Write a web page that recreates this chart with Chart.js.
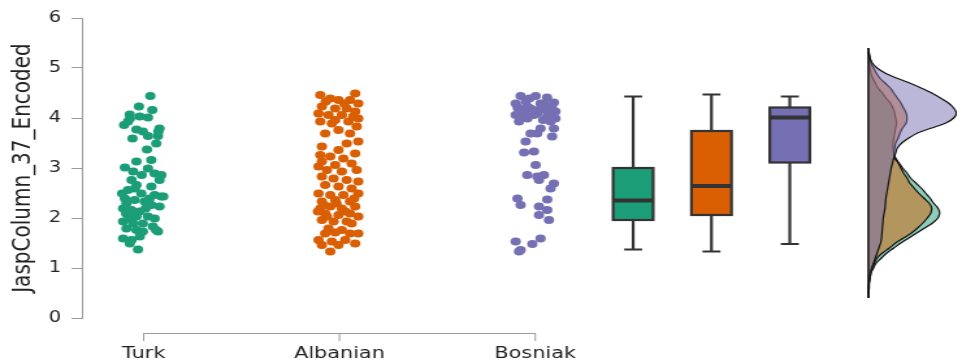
<!DOCTYPE html>
<html>
<head>
<meta charset="utf-8">
<script src="https://cdn.jsdelivr.net/npm/chart.js@4.4.1/dist/chart.umd.min.js"></script>
<style>
  html, body { margin: 0; padding: 0; background: #fff; overflow: hidden; }
  /* the plot is rendered narrow and widened horizontally */
  #wrap { width: 740px; height: 363px; transform: scaleX(1.3); transform-origin: 0 0; }
</style>
</head>
<body>
<div id="wrap"><canvas id="plot" width="740" height="363"></canvas></div>
<script>
'use strict';

// ===== data =====
const groups = ['Turk', 'Albanian', 'Bosniak'];
const groupColors = ['#1b9e77', '#d95f02', '#7570b3'];
const yTicks = [0, 1, 2, 3, 4, 5, 6];

// jittered raw observations (jitter in category units)
const turkJitter = [0.034, -0.024, 0.044, -0.071, -0.020, 0.022, -0.100, -0.080, -0.037, -0.004,
  0.081, -0.057, 0.022, 0.073, 0.064, 0.017, -0.037, 0.039, -0.096, 0.022,
  -0.054, 0.056, 0.090, 0.081, -0.062, -0.037, 0.039, -0.080, -0.012, 0.056,
  0.090, -0.096, -0.046, 0.005, 0.039, 0.081, -0.105, -0.062, -0.020, -0.080,
  -0.037, 0.022, 0.056, -0.105, -0.054, -0.004, 0.047, -0.088, -0.037, 0.073,
  -0.105, -0.062, -0.020, -0.071, -0.029, -0.004, -0.088, 0.030, -0.090, -0.060,
  0.010, -0.110, 0.063, -0.045, 0.100, -0.070, 0.075, -0.010];
const turkValues = [4.44, 4.23, 4.16, 4.07, 4.03, 4.01, 3.86, 3.93, 3.77, 3.73,
  3.79, 3.59, 3.64, 3.64, 3.49, 3.37, 3.13, 3.16, 3.01, 2.99,
  2.93, 2.89, 2.86, 2.76, 2.76, 2.66, 2.63, 2.56, 2.49, 2.46,
  2.43, 2.39, 2.36, 2.33, 2.26, 2.23, 2.19, 2.16, 2.13, 2.06,
  2.03, 2.03, 1.99, 1.93, 1.89, 1.89, 1.83, 1.79, 1.76, 1.73,
  1.59, 1.56, 1.63, 1.49, 1.37, 1.73, 2.29, 2.39, 2.09, 1.97,
  2.19, 2.49, 1.76, 2.59, 2.43, 3.99, 3.73, 2.86];

const albanianJitter = [-0.098, 0.080, -0.047, -0.005, 0.054, 0.096, -0.090, -0.022, 0.037, 0.080,
  -0.107, -0.056, 0.012, 0.096, -0.098, -0.039, 0.046, 0.088, -0.073, -0.005,
  0.054, 0.096, 0.037, -0.090, -0.005, -0.098, -0.047, 0.020, -0.090, -0.022,
  0.062, -0.064, 0.012, 0.088, -0.090, -0.030, 0.037, 0.096, -0.073, -0.005,
  0.062, -0.107, -0.047, 0.020, 0.096, -0.090, -0.022, 0.054, -0.098, -0.047,
  0.012, 0.080, -0.073, -0.005, 0.054, 0.096, -0.090, -0.030, 0.037, -0.056,
  0.012, -0.073, -0.022, 0.054, 0.096, -0.107, -0.039, 0.029, 0.080, -0.090,
  -0.005, -0.047, -0.107, 0.080, -0.022, -0.064, 0.062, -0.070, 0.025, 0.070,
  -0.080, 0.030, -0.015, 0.075, -0.110];
const albanianValues = [4.46, 4.49, 4.39, 4.36, 4.36, 4.29, 4.23, 4.19, 4.19, 4.13,
  4.09, 4.06, 4.06, 3.99, 3.93, 3.89, 3.93, 3.83, 3.69, 3.76,
  3.69, 3.53, 3.49, 3.43, 3.36, 3.26, 3.23, 3.19, 3.13, 3.06,
  3.09, 2.96, 2.93, 2.96, 2.83, 2.79, 2.76, 2.73, 2.66, 2.63,
  2.59, 2.49, 2.46, 2.46, 2.49, 2.33, 2.36, 2.33, 2.19, 2.23,
  2.19, 2.23, 2.09, 2.06, 2.09, 2.03, 1.96, 1.93, 1.93, 1.79,
  1.76, 1.69, 1.71, 1.69, 1.69, 1.56, 1.53, 1.56, 1.49, 1.46,
  1.46, 1.33, 3.03, 3.29, 3.96, 2.03, 1.89, 4.33, 4.29, 4.03,
  2.26, 2.13, 2.29, 2.39, 2.13];

const bosniakJitter = [-0.075, 0.002, -0.100, -0.049, 0.027, 0.095, -0.083, -0.024, 0.052, 0.103,
  -0.075, -0.007, 0.061, 0.103, -0.083, 0.010, -0.041, 0.078, 0.027, 0.095,
  -0.024, 0.010, 0.086, -0.049, -0.057, -0.007, 0.002, -0.041, 0.010, 0.044,
  0.019, 0.095, 0.078, -0.091, -0.075, 0.061, 0.019, 0.061, 0.019, 0.070,
  -0.100, -0.075, -0.015, 0.027, -0.083, 0.044, 0.070, -0.057, -0.030, 0.060,
  -0.090, 0.035, 0.085, -0.060, 0.015, -0.040, 0.040, -0.100];
const bosniakValues = [4.44, 4.44, 4.29, 4.33, 4.29, 4.31, 4.16, 4.19, 4.16, 4.13,
  4.03, 4.06, 4.03, 3.99, 3.93, 4.09, 4.23, 3.93, 3.79, 3.79,
  3.69, 3.69, 3.63, 3.53, 3.31, 3.33, 3.06, 2.86, 2.83, 2.86,
  2.76, 2.69, 2.59, 2.39, 2.26, 2.37, 2.23, 2.16, 2.06, 1.96,
  1.53, 1.36, 1.48, 1.59, 1.33, 4.29, 4.09, 4.09, 4.39, 4.41,
  4.21, 4.23, 4.21, 4.16, 4.16, 3.99, 3.96, 4.06];

// box plot summaries
const boxPositions = [3.5, 3.9, 4.3];
const boxLower = [1.37, 1.33, 1.48];
const boxQ1 = [1.96, 2.06, 3.11];
const boxMedian = [2.35, 2.64, 4.01];
const boxQ3 = [3.00, 3.74, 4.21];
const boxUpper = [4.43, 4.47, 4.43];

// kernel densities, evaluated at the same levels (relative density)
const densityLevels = [0.4, 0.5, 0.6, 0.7, 0.8, 0.9, 1.0, 1.1, 1.2, 1.3,
  1.4, 1.5, 1.6, 1.7, 1.8, 1.9, 2.0, 2.1, 2.2, 2.3,
  2.4, 2.5, 2.6, 2.7, 2.8, 2.9, 3.0, 3.1, 3.2, 3.3,
  3.4, 3.5, 3.6, 3.7, 3.8, 3.9, 4.0, 4.1, 4.2, 4.3,
  4.4, 4.5, 4.6, 4.7, 4.8, 4.9, 5.0, 5.1, 5.2, 5.3, 5.4];
const turkDensity = [0, 0, 0.005, 0.01, 0.02, 0.03, 0.06, 0.09, 0.15, 0.21,
  0.29, 0.37, 0.46, 0.55, 0.64, 0.73, 0.79, 0.81, 0.79, 0.74,
  0.70, 0.65, 0.60, 0.54, 0.48, 0.44, 0.39, 0.35, 0.31, 0.29,
  0.28, 0.28, 0.29, 0.30, 0.31, 0.32, 0.31, 0.30, 0.28, 0.25,
  0.20, 0.16, 0.11, 0.08, 0.05, 0.03, 0.02, 0.01, 0.01, 0, 0];
const albanianDensity = [0, 0, 0, 0.005, 0.01, 0.02, 0.04, 0.07, 0.10, 0.16,
  0.24, 0.31, 0.40, 0.49, 0.56, 0.62, 0.67, 0.71, 0.72, 0.69,
  0.63, 0.57, 0.52, 0.47, 0.44, 0.40, 0.37, 0.34, 0.30, 0.29,
  0.30, 0.31, 0.34, 0.36, 0.39, 0.43, 0.44, 0.43, 0.40, 0.37,
  0.33, 0.29, 0.25, 0.19, 0.13, 0.09, 0.06, 0.03, 0.02, 0.01, 0];
const bosniakDensity = [0, 0, 0.01, 0.01, 0.02, 0.03, 0.04, 0.06, 0.08, 0.10,
  0.12, 0.14, 0.15, 0.155, 0.16, 0.165, 0.17, 0.18, 0.19, 0.195,
  0.20, 0.21, 0.22, 0.23, 0.24, 0.25, 0.26, 0.275, 0.29, 0.31,
  0.33, 0.38, 0.46, 0.56, 0.72, 0.88, 0.97, 1.00, 0.97, 0.91,
  0.82, 0.72, 0.60, 0.47, 0.32, 0.19, 0.10, 0.045, 0.02, 0.005, 0];
const densityRange = [0.42, 5.32];

// ===== styles =====
const FONT = "'DejaVu Sans', sans-serif";
const AXIS_GREY = '#9a9a9a';
const INK = '#222';

function hexAlpha(hex, a) {
  const n = parseInt(hex.slice(1), 16);
  return `rgba(${n >> 16},${(n >> 8) & 255},${n & 255},${a})`;
}

function jitterPoints(idx, jitter, values) {
  return values.map((v, i) => ({ x: idx + 1 + jitter[i], y: v }));
}

function densityCurve(dens) {
  return densityLevels.map((lv, i) => ({ x: dens[i], y: lv }));
}

// x axis drawn only between the first and last group, below the plot
const baseAxisPlugin = {
  id: 'baseAxis',
  afterDraw(chart) {
    const { ctx, scales: { x }, chartArea } = chart;
    const y0 = chartArea.bottom + 15;
    const x1 = x.getPixelForValue(1);
    const x3 = x.getPixelForValue(groups.length);
    ctx.save();
    ctx.strokeStyle = AXIS_GREY;
    ctx.lineWidth = 1;
    ctx.beginPath();
    ctx.moveTo(x1, y0 + 0.5);
    ctx.lineTo(x3, y0 + 0.5);
    groups.forEach((g, i) => {
      const px = x.getPixelForValue(i + 1);
      ctx.moveTo(px, y0);
      ctx.lineTo(px, y0 + 8);
    });
    ctx.stroke();
    ctx.restore();
  }
};

// box plots next to the clouds
const boxPlotPlugin = {
  id: 'boxPlots',
  afterDatasetsDraw(chart) {
    const { ctx, scales: { x, y } } = chart;
    const halfBox = 15.4;
    const halfCap = 6.9;
    ctx.save();
    ctx.strokeStyle = '#333';
    boxPositions.forEach((pos, i) => {
      const cx = x.getPixelForValue(pos);
      const yLo = y.getPixelForValue(boxLower[i]);
      const yHi = y.getPixelForValue(boxUpper[i]);
      const y1 = y.getPixelForValue(boxQ1[i]);
      const y3 = y.getPixelForValue(boxQ3[i]);
      const ym = y.getPixelForValue(boxMedian[i]);

      ctx.lineWidth = 2.2;
      ctx.beginPath();
      ctx.moveTo(cx, yHi); ctx.lineTo(cx, y3);
      ctx.moveTo(cx, y1); ctx.lineTo(cx, yLo);
      ctx.moveTo(cx - halfCap, yHi); ctx.lineTo(cx + halfCap, yHi);
      ctx.moveTo(cx - halfCap, yLo); ctx.lineTo(cx + halfCap, yLo);
      ctx.stroke();

      ctx.fillStyle = groupColors[i];
      ctx.fillRect(cx - halfBox, y3, halfBox * 2, y1 - y3);
      ctx.strokeRect(cx - halfBox, y3, halfBox * 2, y1 - y3);

      ctx.lineWidth = 4;
      ctx.beginPath();
      ctx.moveTo(cx - halfBox, ym); ctx.lineTo(cx + halfBox, ym);
      ctx.stroke();
    });
    ctx.restore();
  }
};

const densitySets = [turkDensity, albanianDensity, bosniakDensity].map((d, i) => ({
  type: 'line',
  label: groups[i] + ' density',
  data: densityCurve(d),
  indexAxis: 'y',
  xAxisID: 'xd',
  yAxisID: 'y',
  fill: 'origin',
  backgroundColor: hexAlpha(groupColors[i], 0.5),
  borderColor: '#111',
  borderWidth: 1.2,
  pointRadius: 0,
  tension: 0.3,
  order: 6 - i,
}));

const cloudSets = [
  [turkJitter, turkValues],
  [albanianJitter, albanianValues],
  [bosniakJitter, bosniakValues],
].map(([j, v], i) => ({
  type: 'scatter',
  label: groups[i],
  data: jitterPoints(i, j, v),
  xAxisID: 'x',
  yAxisID: 'y',
  backgroundColor: groupColors[i],
  borderWidth: 0,
  pointRadius: 4,
  order: 1,
}));

new Chart(document.getElementById('plot'), {
  type: 'scatter',
  plugins: [baseAxisPlugin, boxPlotPlugin],
  data: {
    datasets: [
      ...cloudSets,
      {
        type: 'line',
        label: 'density base',
        data: [{ x: 0, y: densityRange[0] }, { x: 0, y: densityRange[1] }],
        indexAxis: 'y',
        xAxisID: 'xd',
        yAxisID: 'y',
        borderColor: '#111',
        borderWidth: 1.5,
        pointRadius: 0,
        fill: false,
        order: 3,
      },
      ...densitySets,
    ],
  },
  options: {
    responsive: false,
    animation: false,
    events: [],
    layout: { padding: { top: 18, right: 0, bottom: 0, left: 0 } },
    plugins: { legend: { display: false }, tooltip: { enabled: false } },
    scales: {
      x: {
        type: 'linear',
        min: 0.6845,
        max: 5.153,
        afterBuildTicks: s => { s.ticks = groups.map((g, i) => ({ value: i + 1 })); },
        afterFit: s => { s.height = 45; },
        ticks: {
          autoSkip: false,
          maxRotation: 0,
          padding: 26.5,
          color: INK,
          font: { family: FONT, size: 16 },
          callback: v => groups[v - 1],
        },
        grid: { display: false, drawTicks: false },
        border: { display: false },
      },
      xd: {
        type: 'linear',
        display: false,
        min: -8.93,
        max: 1.005,
      },
      y: {
        min: 0,
        max: 6,
        afterBuildTicks: s => { s.ticks = yTicks.map(v => ({ value: v })); },
        afterFit: s => { s.width = 63; },
        ticks: {
          padding: 8,
          color: INK,
          font: { family: FONT, size: 15 },
        },
        grid: { drawOnChartArea: false, tickLength: 8, color: AXIS_GREY },
        border: { color: AXIS_GREY },
        title: {
          display: true,
          text: 'JaspColumn_37_Encoded',
          color: INK,
          font: { family: FONT, size: 20 },
          padding: { top: 6, bottom: 0 },
        },
      },
    },
  },
});
</script>
</body>
</html>
